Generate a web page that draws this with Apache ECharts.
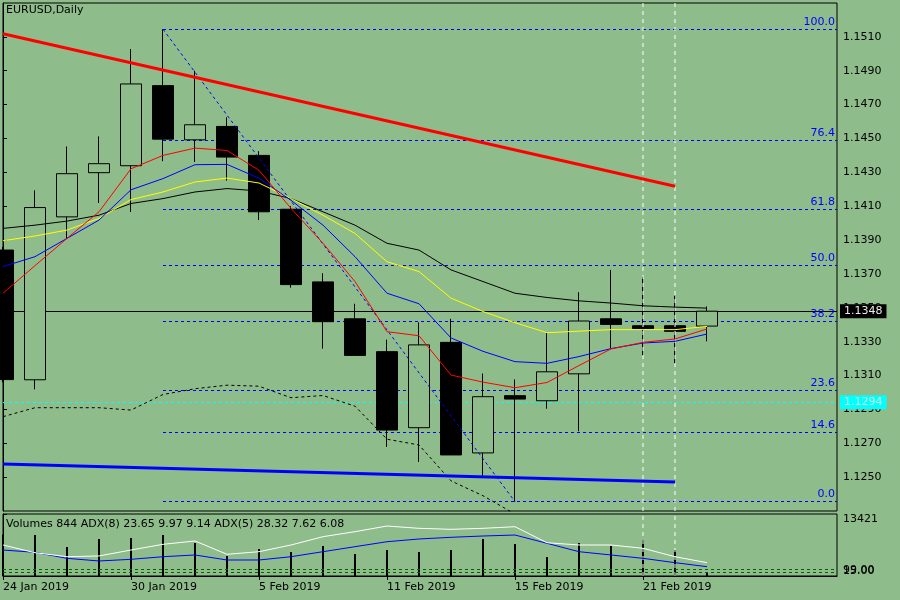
<!DOCTYPE html>
<html>
<head>
<meta charset="utf-8">
<title>EURUSD,Daily</title>
<script src="https://cdn.jsdelivr.net/npm/echarts@6.0.0/dist/echarts.min.js"></script>
<style>
  html, body { margin: 0; padding: 0; background: #8FBC8B; }
  #main { width: 900px; height: 600px; }
</style>
</head>
<body>
<div id="main"></div>
<script>
// bars, one per trading day
var dates = ['24 Jan 2019', '25 Jan 2019', '28 Jan 2019', '29 Jan 2019', '30 Jan 2019', '31 Jan 2019',
  '1 Feb 2019', '4 Feb 2019', '5 Feb 2019', '6 Feb 2019', '7 Feb 2019', '8 Feb 2019', '11 Feb 2019',
  '12 Feb 2019', '13 Feb 2019', '14 Feb 2019', '15 Feb 2019', '18 Feb 2019', '19 Feb 2019',
  '20 Feb 2019', '21 Feb 2019', '22 Feb 2019', '25 Feb 2019'];
var dateTicks = [0, 4, 8, 12, 16, 20];

var opens = [1.13841, 1.13075, 1.14037, 1.14298, 1.14339, 1.14812, 1.14492, 1.14571, 1.14400, 1.14082, 1.13653, 1.13435,
  1.13241, 1.12792, 1.13296, 1.12643, 1.12981, 1.12951, 1.13110, 1.13435, 1.13394, 1.13394, 1.13392];
var closes = [1.13076, 1.14092, 1.14292, 1.14351, 1.14822, 1.14496, 1.14581, 1.14390, 1.14067, 1.13637, 1.13418, 1.13219,
  1.12778, 1.13281, 1.12631, 1.12975, 1.12961, 1.13122, 1.13422, 1.13402, 1.13377, 1.13361, 1.13480];
var highs = [1.13860, 1.14194, 1.14453, 1.14512, 1.15028, 1.15145, 1.14900, 1.14625, 1.14425, 1.14100, 1.13704, 1.13524,
  1.13312, 1.13414, 1.13435, 1.13112, 1.13077, 1.13351, 1.13592, 1.13724, 1.13684, 1.13571, 1.13508];
var lows = [1.13060, 1.13018, 1.13906, 1.14119, 1.14066, 1.14366, 1.14361, 1.14251, 1.14018, 1.13619, 1.13259, 1.13219,
  1.12678, 1.12590, 1.12631, 1.12508, 1.12355, 1.12904, 1.12771, 1.13263, 1.13218, 1.13171, 1.13302];

// moving averages
var maRed = [1.13586, 1.13749, 1.13910, 1.14067, 1.14321, 1.14400, 1.14443, 1.14429, 1.14312, 1.14087, 1.13881, 1.13655,
  1.13359, 1.13335, 1.13103, 1.13061, 1.13028, 1.13059, 1.13159, 1.13257, 1.13296, 1.13316, 1.13375];
var maBlue = [1.13743, 1.13802, 1.13910, 1.14018, 1.14197, 1.14263, 1.14345, 1.14347, 1.14265, 1.14135, 1.13988, 1.13802,
  1.13586, 1.13524, 1.13322, 1.13243, 1.13182, 1.13172, 1.13212, 1.13259, 1.13292, 1.13302, 1.13345];
var maYellow = [1.13896, 1.13924, 1.13959, 1.14028, 1.14139, 1.14184, 1.14243, 1.14266, 1.14237, 1.14145, 1.14047, 1.13939,
  1.13772, 1.13714, 1.13557, 1.13478, 1.13412, 1.13353, 1.13362, 1.13371, 1.13371, 1.13371, 1.13390];
var maBlack = [1.13969, 1.13988, 1.14012, 1.14047, 1.14116, 1.14145, 1.14184, 1.14204, 1.14190, 1.14145, 1.14067, 1.13988,
  1.13881, 1.13841, 1.13724, 1.13655, 1.13586, 1.13561, 1.13541, 1.13528, 1.13512, 1.13504, 1.13498];
// dotted lower band
var lowerBand = [1.12857, 1.12910, 1.12910, 1.12910, 1.12896, 1.12988, 1.13022, 1.13043, 1.13037, 1.12969, 1.12982, 1.12919,
  1.12724, 1.12690, 1.12478, 1.12390, 1.12282];

// trend lines [barIndex, price]
var redTrend = [[0, 1.15118], [21, 1.14218]];
var blueTrend = [[0, 1.12577], [21, 1.12471]];

// fibonacci from the 31 Jan high to the 15 Feb low
var fibHigh = [5, 1.15145];
var fibLow = [16, 1.12355];
var fibLevels = [0, 14.6, 23.6, 38.2, 50, 61.8, 76.4, 100];

var bidPrice = 1.1348;
var alertPrice = 1.12942;
var markedBars = [20, 21];

// sub window
var volumes = [9000, 8876, 6278, 8010, 8227, 8876, 7144, 4330, 5845, 5196, 6495, 4763, 5629, 5196, 5629, 8010, 6928,
  4113, 7144, 6495, 7794, 5629, 844];
var adxWhite = [50.0, 37.6, 31.1, 32.3, 41.9, 51.1, 56.5, 35.0, 39.2, 50.0, 63.4, 71.5, 80.6, 76.9, 75.3, 76.9, 79.5,
  53.7, 50.0, 50.0, 44.7, 31.1, 21.5];
var adxBlue = [41.9, 38.2, 28.5, 24.2, 26.9, 31.1, 33.9, 25.8, 25.8, 31.1, 39.2, 47.3, 55.3, 59.7, 62.4, 64.5, 66.1,
  52.7, 39.2, 33.9, 28.5, 21.5, 15.0];
var adxLevels = [10.8, 6.0];
var volMax = 13421;

var FONT = 'DejaVu Sans';
var BG = '#8FBC8B';
var X_MAX = 26.0625;
var P_MIN = 1.1230, P_MAX = 1.1530;

function pts(arr) {
  return arr.map(function (v, i) { return [i, v]; });
}

function line(name, data, color, width, type, xi, yi) {
  return {
    name: name,
    type: 'line',
    xAxisIndex: xi || 0,
    yAxisIndex: yi || 0,
    data: data,
    symbol: 'none',
    silent: true,
    lineStyle: { color: color, width: width, type: type || 'solid' }
  };
}

var candles = opens.map(function (o, i) {
  return [i, o, closes[i], lows[i], highs[i]];
});

var fibLines = fibLevels.map(function (l) {
  var p = fibLow[1] + (fibHigh[1] - fibLow[1]) * l / 100;
  return [{ coord: [fibHigh[0], p], name: l.toFixed(1) }, { coord: [X_MAX, p] }];
});

var series = [];

// white dashed verticals, behind everything
markedBars.forEach(function (b) {
  series.push(line('v' + b, [[b, P_MIN], [b, P_MAX]], '#ffffff', 1, [4, 4], 0, 0));
  series.push(line('vs' + b, [[b, 0], [b, volMax]], '#ffffff', 1, [4, 4], 1, 1));
});

// fib diagonal + levels
var fibSeries = line('fib', [fibHigh, fibLow], '#0000ff', 1, [3, 3]);
fibSeries.markLine = {
  z: 1,
  silent: true,
  animation: false,
  precision: 6,
  symbol: ['none', 'none'],
  lineStyle: { color: '#0000ff', type: [3, 3], width: 1 },
  label: { position: 'insideEndTop', color: '#0000ff', fontSize: 11, fontFamily: FONT, distance: 2, formatter: '{b}' },
  data: fibLines
};
series.push(fibSeries);

// bid and alert lines
series.push({
  name: 'levels',
  type: 'line',
  data: [],
  markLine: {
    z: 1,
    silent: true,
    animation: false,
    precision: 6,
    symbol: ['none', 'none'],
    data: [
      {
        yAxis: bidPrice,
        lineStyle: { color: '#000', width: 1, type: 'solid' },
        label: { position: 'end', distance: 3, formatter: bidPrice.toFixed(4), backgroundColor: '#000', color: '#e8e8e8',
          padding: [2, 4, 1, 4], fontSize: 11, fontFamily: FONT }
      },
      {
        yAxis: alertPrice,
        lineStyle: { color: '#00ffff', width: 1, type: [3, 3] },
        label: { position: 'end', distance: 3, formatter: alertPrice.toFixed(4), backgroundColor: '#00ffff', color: '#d0e8d8',
          padding: [2, 4, 1, 4], fontSize: 11, fontFamily: FONT }
      }
    ]
  }
});

series.push({
  name: 'EURUSD',
  type: 'candlestick',
  xAxisIndex: 0,
  yAxisIndex: 0,
  barWidth: 22,
  clip: true,
  silent: true,
  encode: { x: 0, y: [1, 2, 3, 4] },
  data: candles,
  itemStyle: { color: BG, color0: '#000', borderColor: '#000', borderColor0: '#000', borderWidth: 1 }
});

series.push(line('lower', pts(lowerBand), '#000', 1, [3, 3]));
series.push(line('maBlack', pts(maBlack), '#000', 1));
series.push(line('maYellow', pts(maYellow), '#ffff00', 1));
series.push(line('maBlue', pts(maBlue), '#0000ff', 1));
series.push(line('maRed', pts(maRed), '#ff0000', 1));
series.push(line('redTrend', redTrend, '#ff0000', 3));
series.push(line('blueTrend', blueTrend, '#0000ff', 3));

// sub window
series.push({
  name: 'Volumes',
  type: 'bar',
  xAxisIndex: 1,
  yAxisIndex: 1,
  barWidth: 2,
  silent: true,
  data: pts(volumes),
  itemStyle: { color: '#000' }
});
var adxB = line('adxBlue', pts(adxBlue), '#0000ff', 1, 'solid', 1, 2);
adxB.markLine = {
  silent: true,
  animation: false,
  precision: 3,
  symbol: ['none', 'none'],
  label: { show: false },
  lineStyle: { color: '#006400', width: 1, type: [3, 3] },
  data: adxLevels.map(function (v) { return { yAxis: v }; })
};
series.push(adxB);
series.push(line('adxWhite', pts(adxWhite), '#ffffff', 1, 'solid', 1, 2));

var axisText = { color: '#000', fontSize: 11, fontFamily: FONT };

var option = {
  backgroundColor: BG,
  animation: false,
  title: [{
    text: 'EURUSD,Daily',
    left: 6, top: 5, padding: 0,
    textStyle: { color: '#000', fontSize: 11, fontWeight: 'normal', fontFamily: FONT }
  }, {
    text: 'Volumes 844 ADX(8) 23.65 9.97 9.14 ADX(5) 28.32 7.62 6.08',
    left: 6, top: 519, padding: 0,
    textStyle: { color: '#000', fontSize: 11, fontWeight: 'normal', fontFamily: FONT }
  }],
  grid: [
    { left: 3, right: 63, top: 3, height: 508, show: true, borderColor: '#000', borderWidth: 1, backgroundColor: 'transparent' },
    { left: 3, right: 63, top: 514, height: 62, show: true, borderColor: '#000', borderWidth: 1, backgroundColor: 'transparent' }
  ],
  xAxis: [{
    type: 'value', gridIndex: 0, min: 0, max: X_MAX, show: false, splitLine: { show: false }
  }, {
    type: 'value', gridIndex: 1, min: 0, max: X_MAX, interval: 4,
    splitLine: { show: false },
    axisLine: { lineStyle: { color: '#000' } },
    axisTick: { length: 4, customValues: dateTicks, lineStyle: { color: '#000' } },
    axisLabel: Object.assign({
      align: 'left', margin: 6, customValues: dateTicks, hideOverlap: false,
      formatter: function (v) { return dates[v] || ''; }
    }, axisText)
  }],
  yAxis: [{
    type: 'value', gridIndex: 0, position: 'right', min: P_MIN, max: P_MAX, interval: 0.002,
    splitLine: { show: false },
    axisLine: { show: true, lineStyle: { color: '#000' } },
    axisTick: { show: true, length: 4, lineStyle: { color: '#000' } },
    axisLabel: Object.assign({
      margin: 6, showMinLabel: false, showMaxLabel: false,
      formatter: function (v) { return v.toFixed(4); }
    }, axisText)
  }, {
    type: 'value', gridIndex: 1, position: 'right', min: 0, max: volMax, interval: volMax,
    splitLine: { show: false },
    axisLine: { show: true, lineStyle: { color: '#000' } },
    axisTick: { show: true, length: 4, lineStyle: { color: '#000' } },
    axisLabel: Object.assign({
      margin: 6, showMinLabel: false, verticalAlign: 'top',
      formatter: function (v) { return String(v); }
    }, axisText)
  }, {
    type: 'value', gridIndex: 1, min: 0, max: 100, show: false, splitLine: { show: false }
  }],
  graphic: [
    { type: 'text', left: 843, top: 566, style: { text: '15.00', fill: '#000', font: '11px "DejaVu Sans"' } },
    { type: 'text', left: 843, top: 565, style: { text: '99.00', fill: '#000', font: '11px "DejaVu Sans"' } }
  ],
  series: series
};

var chart = echarts.init(document.getElementById('main'), null, { renderer: 'canvas' });
chart.setOption(option);
</script>
</body>
</html>
